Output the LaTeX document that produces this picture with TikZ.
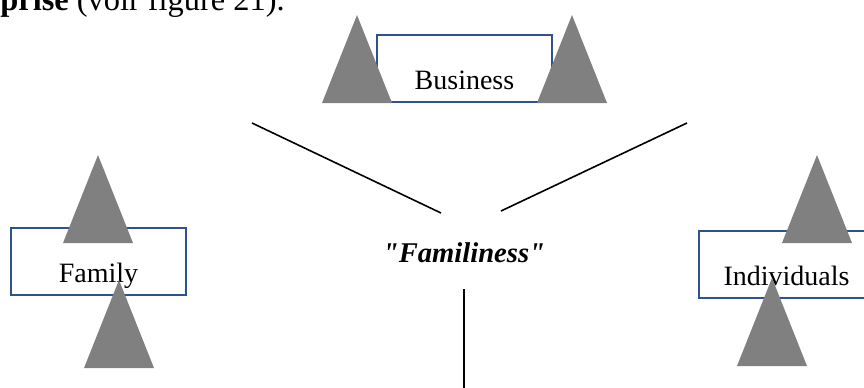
\documentclass[tikz,border=0pt]{standalone}
\usepackage{fontspec}
\setmainfont{Liberation Serif}
% same family without TeX mapping, so that " stays a straight quote
\newfontfamily\straightquotes[Ligatures=TeXOff]{Liberation Serif}
\definecolor{boxblue}{RGB}{47,82,143}
\definecolor{peakgray}{RGB}{128,128,128}
\begin{document}
\begin{tikzpicture}[x=0.5pt,y=-0.5pt,
  box/.style={draw=boxblue, line width=1pt, fill=white, inner sep=0pt,
    minimum width=87.5pt, text height=27pt, text depth=6.5pt, anchor=base,
    font=\fontsize{14}{16}\selectfont},
  link/.style={draw=black, line width=0.8pt},
  peak/.pic={\fill[peakgray] (-35,0) -- (0,-88) -- (35,0) -- cycle;}]
\useasboundingbox (0,0) rectangle (864,387);
\clip (0,0) rectangle (864,387);

% running text above the figure
\node[anchor=base west, inner sep=0pt, font=\fontsize{16.2}{19}\selectfont]
  (caption) at (0,10) {\textbf{prise} (voir figure 21).};

% the three boxes
\node[box] (business) at (464.5,89) {Business};
\node[box] (family) at (98.5,282) {Family};
\node[box] (individuals) at (786.5,285) {Individuals};

% central label
\node[anchor=base, inner sep=0pt, font=\fontsize{14.3}{17}\straightquotes\bfseries\itshape]
  (familiness) at (464,262) {"Familiness"};

% connectors around the central label
\coordinate (l1) at (252,123);
\coordinate (l2) at (441,213);
\coordinate (r1) at (687,123);
\coordinate (r2) at (501,211);
\coordinate (d1) at (464,289);
\coordinate (d2) at (464,392);
\draw[link] (l1) -- (l2);
\draw[link] (r1) -- (r2);
\draw[link] (d1) -- (d2);

% triangles drawn over the boxes
\pic at (357,103) {peak};
\pic at (572,103) {peak};
\pic at (98,243) {peak};
\pic at (119,368) {peak};
\pic at (817,243) {peak};
\pic at (772,366) {peak};
\end{tikzpicture}
\end{document}
